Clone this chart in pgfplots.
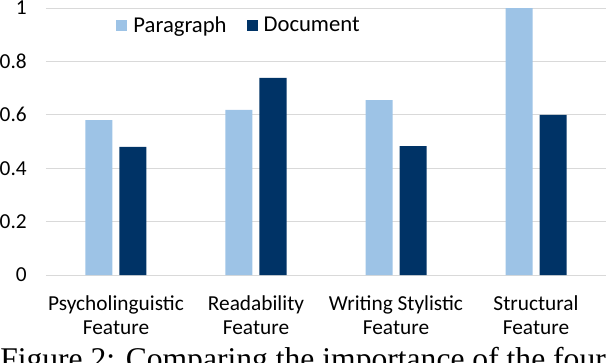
\documentclass[border=0pt]{standalone}
\usepackage{pgfplots}
\pgfplotsset{compat=1.18}
\usepackage{fontspec}
\setmainfont{Carlito}
\newfontfamily\capfont{Liberation Serif}
\definecolor{para}{HTML}{9DC3E6}
\definecolor{docu}{HTML}{003366}
\definecolor{gridc}{HTML}{D9D9D9}
\begin{document}
\begin{tikzpicture}
\path[use as bounding box] (-34.5pt,-65.25pt) rectangle (420pt,206.25pt);
\begin{axis}[
  at={(0pt,0pt)}, anchor=south west,
  scale only axis, width=420pt, height=200.25pt,
  xmin=-0.5, xmax=3.5, ymin=0, ymax=1,
  ybar=5.25pt, bar width=20.25pt,
  xtick={0,1,2,3},
  xticklabels={{Psycholinguistic\\Feature},{Readability\\Feature},{Writing Stylistic\\Feature},{Structural\\Feature}},
  xticklabel style={align=center, inner sep=0pt, anchor=north, yshift=-15.5pt, font=\fontsize{16}{18}\selectfont},
  ytick={0,0.2,0.4,0.6,0.8,1},
  yticklabels={0,0.2,0.4,0.6,0.8,1},
  yticklabel style={inner sep=0pt, anchor=east, xshift=-14.25pt, font=\fontsize{16}{18}\selectfont},
  ymajorgrids, grid style={gridc, line width=0.75pt},
  axis line style={draw=none}, major tick length=0pt,
  clip=false,
  legend columns=2,
  legend style={at={(0.343,0.935)}, anchor=center, draw=none, fill=none,
    font=\fontsize{17}{19}\selectfont, inner sep=0pt, nodes={inner sep=0pt},
    /tikz/every odd column/.append style={column sep=4.5pt},
    /tikz/every even column/.append style={column sep=15pt}},
  legend image code/.code={\fill (0pt,-4.1pt) rectangle (8.25pt,4.1pt);},
]
\addplot[fill=para, draw=none] coordinates {(0,0.58) (1,0.618) (2,0.655) (3,1.0)};
\addplot[fill=docu, draw=none] coordinates {(0,0.48) (1,0.738) (2,0.483) (3,0.60)};
\legend{Paragraph,Document}
\end{axis}
\node[anchor=base west, inner sep=0pt, font=\capfont\fontsize{23.7}{24}\selectfont] at (-34.5pt,-70.6pt) {Figure 2: Comparing the importance of the four};
\end{tikzpicture}
\end{document}
